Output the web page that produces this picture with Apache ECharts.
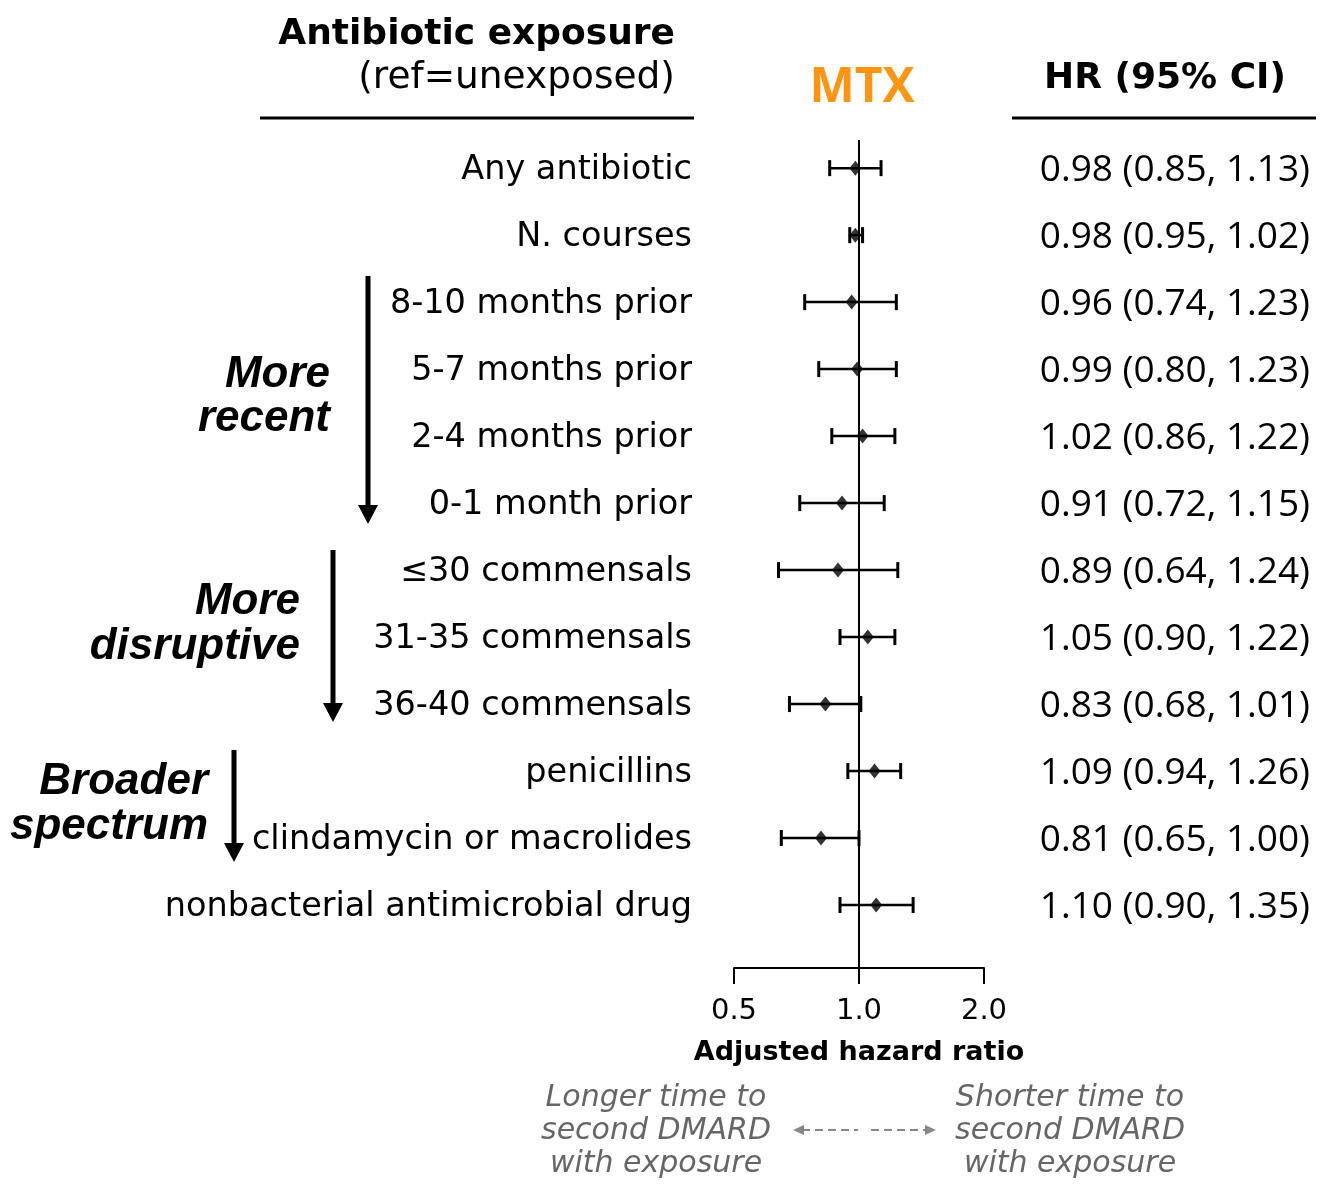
<!DOCTYPE html>
<html>
<head>
<meta charset="utf-8">
<script src="https://cdn.jsdelivr.net/npm/echarts@6/dist/echarts.min.js"></script>
<style>html,body{margin:0;padding:0;background:#fff}#c{width:1323px;height:1187px}</style>
</head>
<body>
<div id="c"></div>
<script>
const rowLabels = ['Any antibiotic','N. courses','8-10 months prior','5-7 months prior','2-4 months prior','0-1 month prior','\u226430 commensals','31-35 commensals','36-40 commensals','penicillins','clindamycin or macrolides','nonbacterial antimicrobial drug'];
const hrValues = [0.98,0.98,0.96,0.99,1.02,0.91,0.89,1.05,0.83,1.09,0.81,1.10];
const ciLower  = [0.85,0.95,0.74,0.80,0.86,0.72,0.64,0.90,0.68,0.94,0.65,0.90];
const ciUpper  = [1.13,1.02,1.23,1.23,1.22,1.15,1.24,1.22,1.01,1.26,1.00,1.35];
const xTicks = [0.5, 1.0, 2.0];

const hrText = hrValues.map((v,i)=>v.toFixed(2)+' ('+ciLower[i].toFixed(2)+', '+ciUpper[i].toFixed(2)+')');

const FONT = '"Open Sans", "Noto Sans", sans-serif';
const DJ = '"DejaVu Sans", "Open Sans", sans-serif';
const chart = echarts.init(document.getElementById('c'), null, {renderer:'canvas'});

function arrow(x, y1, y2){
  return [
    {type:'line', shape:{x1:x,y1:y1,x2:x,y2:y2-16}, style:{stroke:'#000',lineWidth:5}},
    {type:'polygon', shape:{points:[[x-10,y2-19],[x+10,y2-19],[x,y2]]}, style:{fill:'#000'}}
  ];
}
function txt(text,x,y,align,font,fill){
  return {type:'text', style:{text:text,x:x,y:y,align:align,verticalAlign:'middle',font:font,fill:fill||'#000'}};
}
const groupFont = 'italic bold 44px "Liberation Sans", Arial, sans-serif';
const noteFont = 'italic 30px ' + DJ;

const graphics = [
  txt('Antibiotic exposure',675,35,'right','bold 36px '+DJ),
  txt('(ref=unexposed)',675,78,'right','37.5px '+DJ),
  {type:'line', shape:{x1:260,y1:118,x2:694,y2:118}, style:{stroke:'#000',lineWidth:3}},
  txt('MTX',862,88,'center','bold 48px '+FONT,'#FF9410'),
  txt('HR (95% CI)',1165,79,'center','bold 36px '+DJ),
  {type:'line', shape:{x1:1012,y1:118,x2:1316,y2:118}, style:{stroke:'#000',lineWidth:3}},
  txt('More',330,375,'right',groupFont),
  txt('recent',330,419,'right',groupFont),
  txt('More',300,602,'right',groupFont),
  txt('disruptive',300,647,'right',groupFont),
  txt('Broader',208,782,'right',groupFont),
  txt('spectrum',208,827,'right',groupFont),
  ...arrow(368,276,524),
  ...arrow(333,550,722),
  ...arrow(234,750,862),
  txt('Longer time to',656,1098,'center',noteFont,'#666'),
  txt('second DMARD',656,1131,'center',noteFont,'#666'),
  txt('with exposure',656,1164,'center',noteFont,'#666'),
  txt('Shorter time to',1070,1098,'center',noteFont,'#666'),
  txt('second DMARD',1070,1131,'center',noteFont,'#666'),
  txt('with exposure',1070,1164,'center',noteFont,'#666'),
  {type:'line', shape:{x1:802,y1:1130,x2:858,y2:1130}, style:{stroke:'#888',lineWidth:2,lineDash:[8,5]}},
  {type:'polygon', shape:{points:[[793,1130],[804,1125],[804,1135]]}, style:{fill:'#888'}},
  {type:'line', shape:{x1:871,y1:1130,x2:927,y2:1130}, style:{stroke:'#888',lineWidth:2,lineDash:[8,5]}},
  {type:'polygon', shape:{points:[[936,1130],[925,1125],[925,1135]]}, style:{fill:'#888'}}
];

chart.setOption({
  animation:false,
  grid:{left:734, width:250, top:140, bottom:219},
  xAxis:{
    type:'log', logBase:2, min:0.5, max:2,
    axisLine:{show:true, onZero:false, lineStyle:{color:'#000', width:2}},
    axisTick:{show:true, length:16, lineStyle:{color:'#000', width:2}},
    axisLabel:{margin:29, fontSize:29, color:'#000', fontFamily:DJ,
      formatter:function(v){return Number(v).toFixed(1);}},
    splitLine:{show:false}, minorTick:{show:false},
    name:'Adjusted hazard ratio', nameLocation:'middle', nameGap:71,
    nameTextStyle:{fontSize:27, fontWeight:'bold', color:'#000', fontFamily:DJ}
  },
  yAxis:{type:'value', inverse:true, min:-0.42, max:11.94, show:false, splitLine:{show:false}},
  series:[
    {
      type:'custom',
      data: rowLabels.map((l,i)=>[ciLower[i], ciUpper[i], i]),
      encode:{x:[0,1], y:2},
      renderItem:function(params, api){
        const i = api.value(2);
        const lo = api.coord([api.value(0), i]);
        const hi = api.coord([api.value(1), i]);
        const cs = params.coordSys;
        const y = lo[1];
        return {type:'group', children:[
          {type:'line', shape:{x1:lo[0],y1:y,x2:hi[0],y2:y}, style:{stroke:'#000',lineWidth:2.5}},
          {type:'line', shape:{x1:lo[0],y1:y-8,x2:lo[0],y2:y+8}, style:{stroke:'#000',lineWidth:3}},
          {type:'line', shape:{x1:hi[0],y1:y-8,x2:hi[0],y2:y+8}, style:{stroke:'#000',lineWidth:3}},
          {type:'text', style:{text:rowLabels[i], x:cs.x-42, y:y+2, align:'right', verticalAlign:'middle', font:'33.5px '+DJ, fill:'#000'}},
          {type:'text', style:{text:hrText[i], x:cs.x+cs.width+326, y:y+2, align:'right', verticalAlign:'middle', font:'37px '+FONT, fill:'#000'}}
        ]};
      },
      markLine:{silent:true, symbol:'none', label:{show:false},
        lineStyle:{color:'#000', width:2, type:'solid'},
        data:[{xAxis:1}]},
      z:2
    },
    {
      type:'scatter',
      data: hrValues.map((v,i)=>[v,i]),
      symbol:'diamond', symbolSize:[12,15],
      itemStyle:{color:'#000'},
      z:3
    }
  ],
  graphic: graphics
});
</script>
</body>
</html>
